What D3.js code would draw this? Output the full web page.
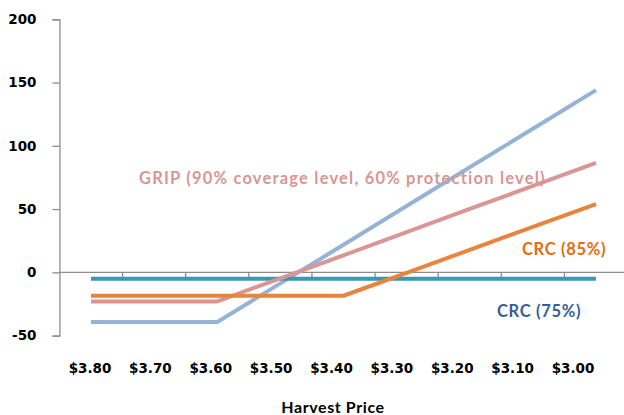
<!DOCTYPE html>
<html>
<head>
<meta charset="utf-8">
<script src="https://cdn.jsdelivr.net/npm/d3@7"></script>
<style>
  html, body { margin: 0; padding: 0; background: #fff; }
  svg { display: block; }
</style>
</head>
<body>
<svg id="chart" width="624" height="415"></svg>
<script>
// Harvest price categories (decreasing price left to right)
const prices = ["$3.80", "$3.70", "$3.60", "$3.50", "$3.40", "$3.30", "$3.20", "$3.10", "$3.00"];

// Net payoff per acre for each policy
const crc75 = [-5, -5, -5, -5, -5, -5, -5, -5, -5];
const crc85 = [-18.5, -18.5, -18.5, -18.5, -18.5, -0.4, 17.8, 35.9, 54];
const grip = [-23, -23, -23, -4.7, 13.5, 31.8, 50.1, 68.3, 86.6];
const gripHigh = [-39.3, -39.3, -39.3, -8.7, 21.8, 52.4, 83, 113.5, 144];

const yTicks = [-50, 0, 50, 100, 150, 200];

const seriesList = [
  { name: "GRIP high", values: gripHigh, color: "#95b3d7" },
  { name: "CRC (75%)", values: crc75, color: "#3b97b2" },
  { name: "GRIP", values: grip, color: "#d99694" },
  { name: "CRC (85%)", values: crc85, color: "#e8843b" }
];

const svg = d3.select("#chart");

const y = d3.scaleLinear().domain([-50, 200]).range([335.6, 19.3]);
const x = d3.scalePoint().domain(prices).range([91, 596]);
const step = x.step();
const axisLeftX = x(prices[0]) - step / 2;
// label positions along the category axis
const xLabel = d3.scalePoint().domain(prices).range([90, 573]);

const axisColor = "#8c8c8c";

// y axis
const yAxis = svg.append("g")
  .attr("transform", `translate(${axisLeftX},0)`)
  .call(d3.axisLeft(y).tickValues(yTicks).tickSize(7).tickPadding(16).tickFormat(d => String(d)));
yAxis.select(".domain").attr("stroke", axisColor).attr("stroke-width", 1.3);
yAxis.selectAll(".tick line").attr("stroke", axisColor).attr("stroke-width", 1.3);
yAxis.selectAll(".tick text")
  .attr("fill", "#000")
  .style("font-family", "'DejaVu Sans', sans-serif")
  .style("font-weight", "bold")
  .style("font-size", "13.5px");

// horizontal category axis at zero with tick marks between categories
const boundaries = d3.range(1, prices.length + 1).map(i => axisLeftX + i * step);
svg.append("line")
  .attr("x1", axisLeftX).attr("x2", 624)
  .attr("y1", y(0)).attr("y2", y(0))
  .attr("stroke", axisColor).attr("stroke-width", 1.3);
svg.append("g").selectAll("line").data(boundaries).join("line")
  .attr("x1", d => d).attr("x2", d => d)
  .attr("y1", y(0)).attr("y2", y(0) + 5)
  .attr("stroke", axisColor).attr("stroke-width", 1.3);

// x category labels
svg.append("g").selectAll("text").data(prices).join("text")
  .attr("x", d => xLabel(d))
  .attr("y", 373)
  .attr("text-anchor", "middle")
  .attr("fill", "#000")
  .style("font-family", "'DejaVu Sans', sans-serif")
  .style("font-weight", "bold")
  .style("font-size", "13.5px")
  .text(d => d);

// axis title
svg.append("text")
  .attr("x", 333).attr("y", 413)
  .attr("text-anchor", "middle")
  .attr("fill", "#000")
  .style("font-family", "Lato, sans-serif")
  .style("font-weight", "bold")
  .style("font-size", "16px")
  .style("letter-spacing", "0.6px")
  .text("Harvest Price");

// series lines
const line = d3.line().x((d, i) => x(prices[i])).y(d => y(d));
svg.append("g").selectAll("path").data(seriesList).join("path")
  .attr("d", d => line(d.values))
  .attr("fill", "none")
  .attr("stroke", d => d.color)
  .attr("stroke-width", 4)
  .attr("stroke-linejoin", "round");

// series labels
const labels = [
  { text: "GRIP (90% coverage level, 60% protection level)", x: 139, y: 184, color: "#d99694", spacing: 1.2 },
  { text: "CRC (85%)", x: 522, y: 255, color: "#e46c0a", spacing: 0.7 },
  { text: "CRC (75%)", x: 497, y: 317, color: "#376092", spacing: 0.7 }
];
svg.append("g").selectAll("text").data(labels).join("text")
  .attr("x", d => d.x).attr("y", d => d.y)
  .attr("fill", d => d.color)
  .style("font-family", "Lato, sans-serif")
  .style("font-weight", "bold")
  .style("font-size", "16.5px")
  .style("letter-spacing", d => d.spacing + "px")
  .text(d => d.text);
</script>
</body>
</html>
